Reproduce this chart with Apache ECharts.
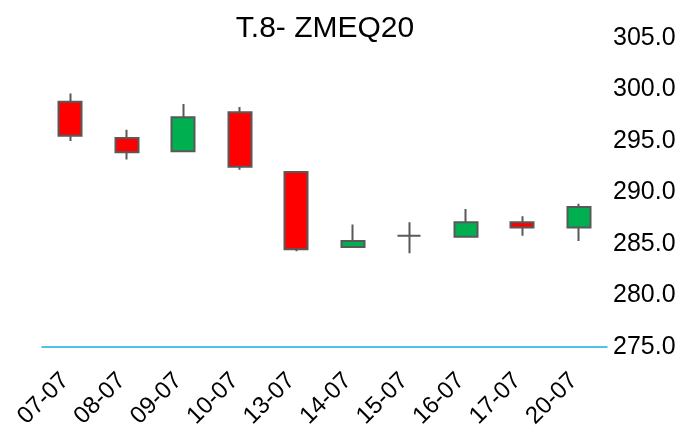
<!DOCTYPE html>
<html>
<head>
<meta charset="utf-8">
<script src="https://cdn.jsdelivr.net/npm/echarts@6/dist/echarts.min.js"></script>
<style>html,body{margin:0;padding:0;background:#fff}#c{width:682px;height:427px}</style>
</head>
<body>
<div id="c"></div>
<script>
var categories = ['07-07','08-07','09-07','10-07','13-07','14-07','15-07','16-07','17-07','20-07'];
var openVals  = [298.8, 295.3, 294.0, 297.8, 292.0, 284.7, 285.8, 285.7, 287.1, 286.6];
var closeVals = [295.5, 293.9, 297.3, 292.5, 284.5, 285.3, 285.8, 287.1, 286.6, 288.6];
var lowVals   = [295.0, 293.2, 294.0, 292.2, 284.3, 284.6, 284.1, 285.7, 285.8, 285.3];
var highVals  = [299.6, 296.1, 298.6, 298.3, 292.0, 286.9, 287.1, 288.4, 287.7, 288.9];
var yTicks = {min: 275, max: 305, step: 5};

var data = categories.map(function (c, i) {
  return [openVals[i], closeVals[i], lowVals[i], highVals[i]];
});

var chart = echarts.init(document.getElementById('c'), null, {renderer: 'canvas'});
chart.setOption({
  backgroundColor: '#ffffff',
  animation: false,
  title: {
    text: 'T.8- ZMEQ20',
    left: 320,
    textAlign: 'center',
    top: 9,
    textStyle: {fontFamily: 'Liberation Sans', fontSize: 30, fontWeight: 'normal', color: '#000'}
  },
  grid: {left: 42, right: 75, top: 38, bottom: 80, containLabel: false, outerBoundsMode: 'none'},
  xAxis: {
    type: 'category',
    data: categories,
    boundaryGap: true,
    axisLine: {show: true, lineStyle: {color: '#1aaee6', width: 1.5}},
    axisTick: {show: false},
    axisLabel: {
      rotate: 45, interval: 0, margin: 25, padding: [0, 7, 0, 0],
      fontFamily: 'Liberation Sans', fontSize: 24, color: '#000'
    },
    splitLine: {show: false}
  },
  yAxis: {
    type: 'value',
    position: 'right',
    min: yTicks.min, max: yTicks.max, interval: yTicks.step,
    axisLine: {show: false},
    axisTick: {show: false},
    splitLine: {show: false},
    axisLabel: {
      margin: 6,
      fontFamily: 'Liberation Sans', fontSize: 25, color: '#000',
      formatter: function (v) { return v.toFixed(1); }
    }
  },
  series: [{
    type: 'candlestick',
    data: data,
    barWidth: '41%',
    itemStyle: {
      color: '#00b050',
      color0: '#ff0000',
      borderColor: '#595959',
      borderColor0: '#595959',
      borderWidth: 2
    }
  }]
});
</script>
</body>
</html>
